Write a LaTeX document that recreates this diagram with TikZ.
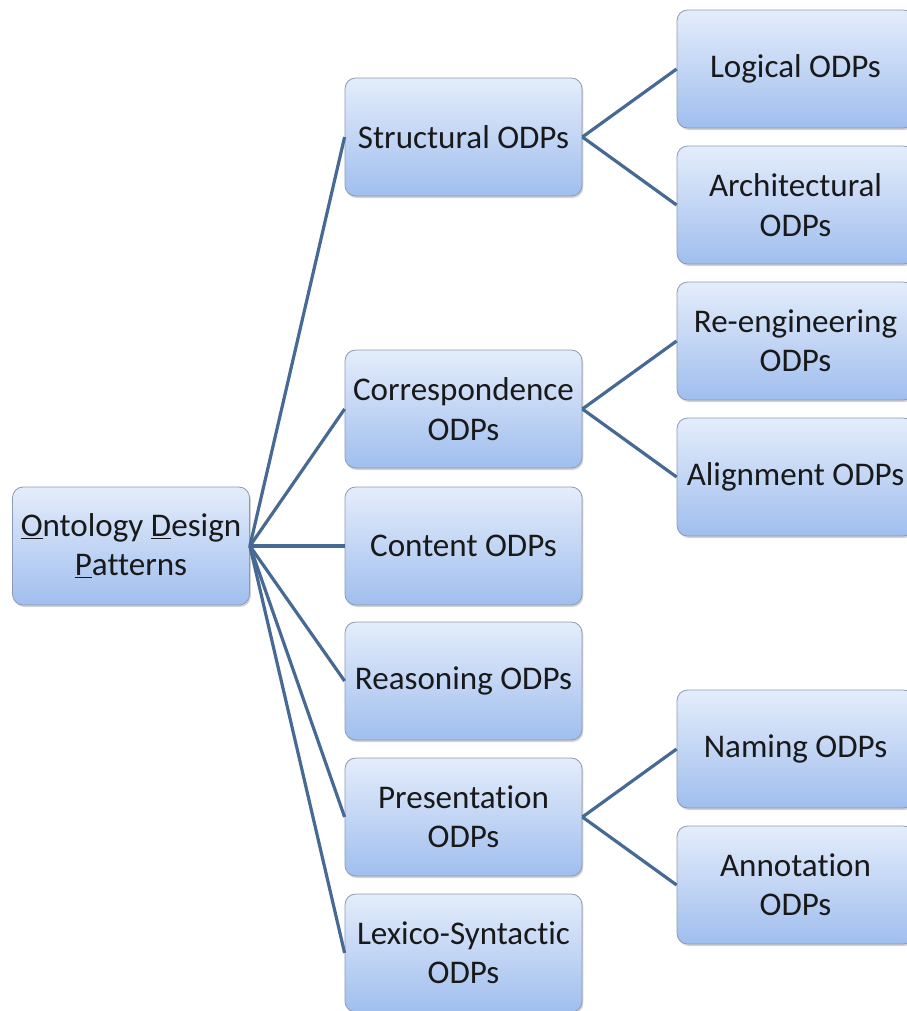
\documentclass[tikz,border=0pt]{standalone}
\usepackage{fontspec}
\setmainfont{Carlito}[RawFeature=-liga]
\usepackage{tikz}
\usetikzlibrary{shapes, positioning, shadows}
\definecolor{boxtop}{RGB}{228, 237, 251}
\definecolor{boxbottom}{RGB}{160, 190, 238}
\definecolor{boxline}{RGB}{140, 155, 180}
\definecolor{linkblue}{RGB}{70, 106, 148}

\begin{document}
\begin{tikzpicture}[x=0.75pt, y=-0.75pt,
    odpbox/.style={draw=boxline, line width=0.6pt, rounded corners=8pt,
      top color=boxtop, bottom color=boxbottom, minimum width=177.75pt,
      minimum height=88.5pt, align=center, inner sep=2pt,
      font=\fontsize{24.8}{29.5}\selectfont, text=black!90,
      drop shadow={shadow xshift=1pt, shadow yshift=-1.5pt, opacity=0.35}},
    link/.style={draw=linkblue, line width=2.4pt}]
  \useasboundingbox (0,0) rectangle (907,1011);
  \begin{scope}
  \clip (0,0) rectangle (907,1011);

  % root and the six pattern families
  \node[odpbox] (odp) at (131,546) {\underline{O}ntology \underline{D}esign\\\underline{P}atterns};
  \node[odpbox] (structural) at (463.5,137) {Structural ODPs};
  \node[odpbox] (correspondence) at (463.5,409) {Correspondence\\ODPs};
  \node[odpbox] (content) at (463.5,546) {Content ODPs};
  \node[odpbox] (reasoning) at (463.5,681) {Reasoning ODPs};
  \node[odpbox] (presentation) at (463.5,817) {Presentation\\ODPs};
  \node[odpbox] (lexico) at (463.5,953) {Lexico-Syntactic\\ODPs};

  % sub-families
  \node[odpbox] (logical) at (795.5,69) {Logical ODPs};
  \node[odpbox] (architectural) at (795.5,205) {Architectural\\ODPs};
  \node[odpbox] (reengineering) at (795.5,341) {Re-engineering\\ODPs};
  \node[odpbox] (alignment) at (795.5,477) {Alignment ODPs};
  \node[odpbox] (naming) at (795.5,749) {Naming ODPs};
  \node[odpbox] (annotation) at (795.5,885) {Annotation\\ODPs};

  % links
  \foreach \fam in {structural, correspondence, content, reasoning, presentation, lexico}
    \draw[link] (odp.east) -- (\fam.west);
  \draw[link] (structural.east) -- (logical.west);
  \draw[link] (structural.east) -- (architectural.west);
  \draw[link] (correspondence.east) -- (reengineering.west);
  \draw[link] (correspondence.east) -- (alignment.west);
  \draw[link] (presentation.east) -- (naming.west);
  \draw[link] (presentation.east) -- (annotation.west);
  \end{scope}
\end{tikzpicture}
\end{document}
